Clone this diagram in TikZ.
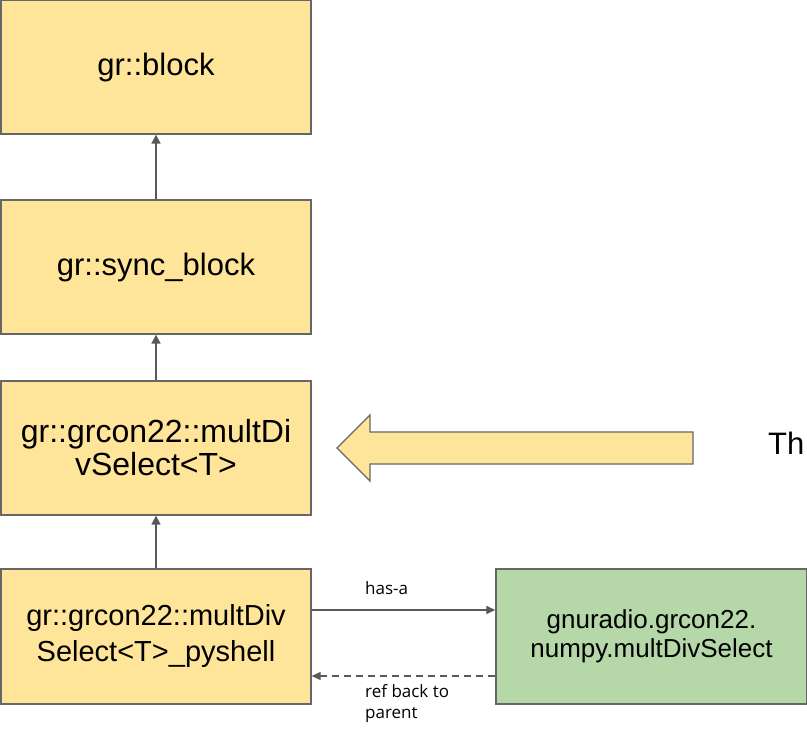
\documentclass[tikz,border=0pt]{standalone}
\usepackage{fontspec}
\setmainfont{Liberation Sans}
\newfontfamily\labelfont{Open Sans}
\usepackage{xcolor}
\usetikzlibrary{arrows.meta}
\definecolor{boxyellow}{HTML}{FFE599}
\definecolor{boxgreen}{HTML}{B6D7A8}
\definecolor{edgegray}{HTML}{666666}
\definecolor{linegray}{HTML}{595959}

\begin{document}
\begin{tikzpicture}[x=1pt, y=1pt,
    cls/.style={shape=rectangle, draw=edgegray, line width=1.3pt, fill=boxyellow,
      minimum width=310pt, minimum height=134pt, align=center, inner sep=0pt},
    pyobj/.style={cls, fill=boxgreen, minimum width=311pt, minimum height=135pt},
    inherit/.style={draw=linegray, line width=1.5pt, -{Triangle[length=9pt, width=9pt]}},
    link/.style={draw=linegray, line width=1.2pt, -{Triangle[length=9pt, width=8pt]}},
    lbl/.style={font=\labelfont\fontsize{17}{21}\selectfont, inner sep=0pt, align=left}]
    \useasboundingbox (0,0) rectangle (807,729);
    % class chain
    \node[cls, font=\fontsize{31}{34}\selectfont] (blk) at (156,662) {gr::block};
    \node[cls, font=\fontsize{31}{34}\selectfont] (sync) at (156,462) {gr::sync\_block};
    \node[cls, font=\fontsize{32}{33}\selectfont] (mds) at (156,281) {gr::grcon22::multDi\\vSelect<T>};
    \node[cls, minimum height=135pt, font=\fontsize{29}{36}\selectfont] (shell) at (156,92.5) {gr::grcon22::multDiv\\Select<T>\_pyshell};
    \node[pyobj, font=\fontsize{26}{29}\selectfont] (npy) at (651.5,92.5) {gnuradio.grcon22.\\numpy.multDivSelect};
    \draw[inherit] (sync.north) -- (blk.south);
    \draw[inherit] (mds.north) -- (sync.south);
    \draw[inherit] (shell.north) -- (mds.south);
    % python side
    \draw[link] ([yshift=26.5pt]shell.east) -- ([yshift=26.5pt]npy.west);
    \draw[link, dashed, dash pattern=on 7pt off 5pt] ([yshift=-39.5pt]npy.west) -- ([yshift=-39.5pt]shell.east);
    \node[lbl, anchor=base west] (hasa) at (365,134) {has-a};
    \node[lbl, anchor=north west] (refback) at (365,45) {ref back to\\parent};
    % big pointer
    \draw[edgegray, line width=1.3pt, fill=boxyellow, line join=miter]
      (337,281) -- (370,314) -- (370,297) -- (693,297) -- (693,265) -- (370,265) -- (370,248) -- cycle;
    \node[anchor=base west, inner sep=0pt, font=\fontsize{31}{34}\selectfont] (th) at (768,274) {Th};
\end{tikzpicture}
\end{document}
